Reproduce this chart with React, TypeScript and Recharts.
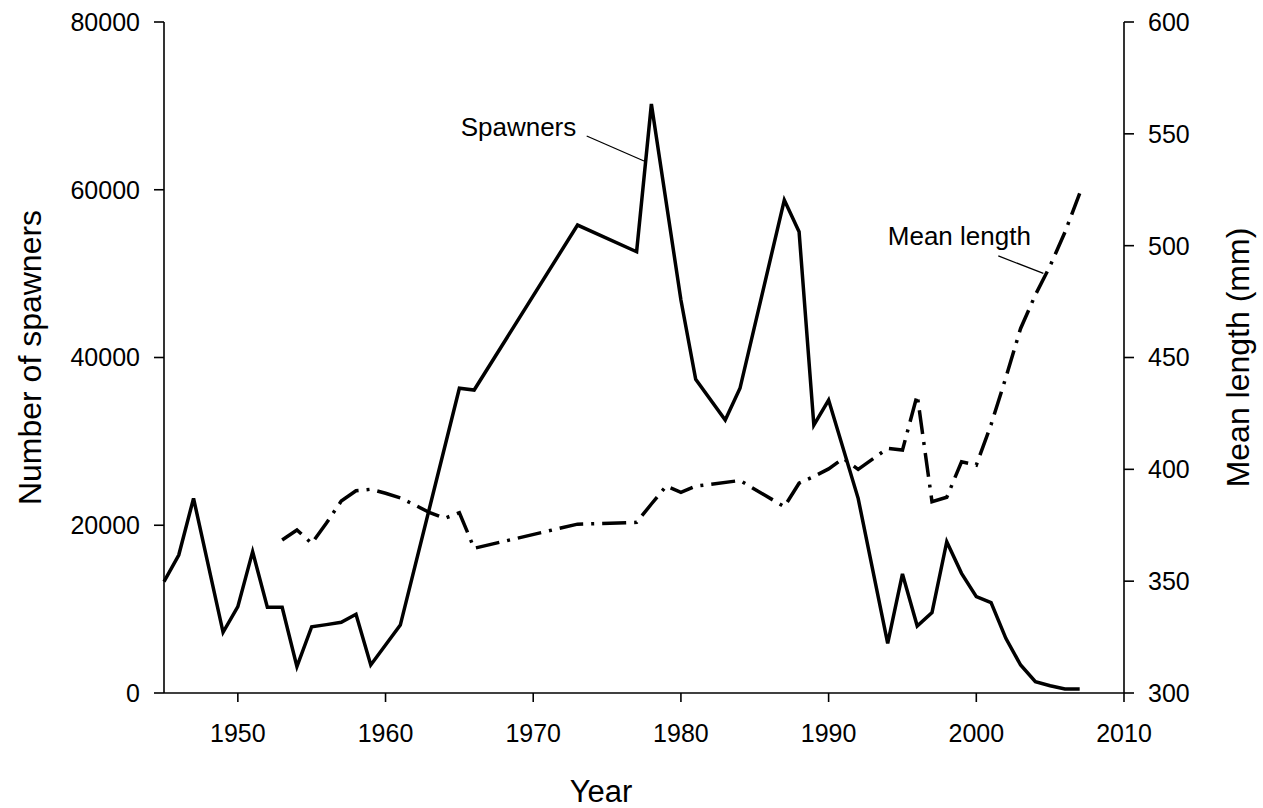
import { LineChart, Line, XAxis, YAxis, ReferenceLine, ReferenceDot } from "recharts";

const FONT = '"Liberation Sans", Arial, sans-serif';

const SPAWN_YEARS = [
  1945, 1946, 1947, 1949, 1950, 1951, 1952, 1953, 1954, 1955, 1956, 1957, 1958, 1959,
  1961, 1965, 1966, 1973, 1977, 1978, 1980, 1981, 1983, 1984, 1987, 1988, 1989, 1990,
  1992, 1994, 1995, 1996, 1997, 1998, 1999, 2000, 2001, 2002, 2003, 2004, 2005, 2006, 2007,
];
const SPAWNERS = [
  13270, 16450, 23210, 7240, 10290, 16850, 10210, 10210, 3140, 7900, 8150, 8430, 9380, 3340,
  8100, 36330, 36120, 55790, 52610, 70220, 46850, 37400, 32550, 36330, 58770, 55000, 31950, 34930,
  23210, 5920, 14190, 7990, 9580, 18040, 14270, 11480, 10770, 6520, 3340, 1350, 870, 480, 480,
];

const LEN_YEARS = [
  1953, 1954, 1955, 1956, 1957, 1958, 1959, 1960, 1961, 1962, 1963, 1964, 1965, 1966,
  1973, 1977, 1978, 1979, 1980, 1981, 1984, 1987, 1988, 1989, 1990, 1991, 1992, 1994,
  1995, 1996, 1997, 1998, 1999, 2000, 2001, 2002, 2003, 2004, 2005, 2006, 2007,
];
const MEAN_LENGTH = [
  368.4, 372.9, 366.9, 376, 385.8, 390.4, 391.1, 389.3, 387.2, 384, 380.6, 378.1, 380.6, 364.7,
  375.5, 376.3, 384.5, 392.5, 389.7, 392.5, 395, 383.3, 393.8, 396.8, 400.2, 404.9, 400, 409.4,
  408.6, 433.2, 385.5, 387.5, 403.4, 401.9, 420, 441, 463, 478, 491, 506, 523.4,
];

const X_TICKS = [1950, 1960, 1970, 1980, 1990, 2000, 2010];
const LEFT_TICKS = [0, 20000, 40000, 60000, 80000];
const RIGHT_TICKS = [300, 350, 400, 450, 500, 550, 600];

const spawnData = SPAWN_YEARS.map((year, i) => ({ year, spawners: SPAWNERS[i] }));
const lengthData = LEN_YEARS.map((year, i) => ({ year, length: MEAN_LENGTH[i] }));

const tickStyle = { fontSize: 25, fill: "#000", fontFamily: FONT };
const axisStroke = { stroke: "#000", strokeWidth: 1.6 };

function LeftTitle({ viewBox }: any) {
  const cx = viewBox.x + 30;
  const cy = viewBox.y + viewBox.height / 2;
  return (
    <text x={cx} y={cy} transform={`rotate(-90 ${cx} ${cy})`} textAnchor="middle"
      dominantBaseline="central" fontSize={32} fontFamily={FONT} fill="#000">
      Number of spawners
    </text>
  );
}

function RightTitle({ viewBox }: any) {
  const cx = viewBox.x + viewBox.width - 25;
  const cy = viewBox.y + viewBox.height / 2;
  return (
    <text x={cx} y={cy} transform={`rotate(-90 ${cx} ${cy})`} textAnchor="middle"
      dominantBaseline="central" fontSize={32} fontFamily={FONT} fill="#000">
      Mean length (mm)
    </text>
  );
}

function BottomTitle({ viewBox }: any) {
  const cx = viewBox.x + viewBox.width / 2 - 43;
  const y = viewBox.y + viewBox.height - 6;
  return (
    <text x={cx} y={y} textAnchor="middle" fontSize={31} fontFamily={FONT} fill="#000">
      Year
    </text>
  );
}

export default function App() {
  return (
    <div style={{ position: "absolute", left: 0, top: 0, background: "#fff" }}>
      <LineChart width={1263} height={808} margin={{ top: 22, right: 0, bottom: 0, left: 0 }}>
        <XAxis
          type="number"
          dataKey="year"
          domain={[1945, 2010]}
          ticks={X_TICKS}
          interval={0}
          allowDuplicatedCategory={false}
          height={115}
          tickSize={9}
          tickMargin={22}
          tick={tickStyle}
          axisLine={axisStroke}
          tickLine={axisStroke}
          label={BottomTitle}
        />
        <YAxis
          yAxisId="left"
          orientation="left"
          domain={[0, 80000]}
          ticks={LEFT_TICKS}
          interval={0}
          width={164}
          tickSize={10}
          tickMargin={14}
          tick={tickStyle}
          axisLine={axisStroke}
          tickLine={axisStroke}
          label={LeftTitle}
        />
        <YAxis
          yAxisId="right"
          orientation="right"
          domain={[300, 600]}
          ticks={RIGHT_TICKS}
          interval={0}
          width={139}
          tickSize={10}
          tickMargin={14}
          tick={tickStyle}
          axisLine={axisStroke}
          tickLine={axisStroke}
          label={RightTitle}
        />
        <Line
          yAxisId="left"
          data={spawnData}
          dataKey="spawners"
          type="linear"
          stroke="#000"
          strokeWidth={3.5}
          strokeLinejoin="miter"
          dot={false}
          activeDot={false}
          isAnimationActive={false}
        />
        <Line
          yAxisId="right"
          data={lengthData}
          dataKey="length"
          type="linear"
          stroke="#000"
          strokeWidth={3.5}
          strokeDasharray="24 8 3 8"
          dot={false}
          activeDot={false}
          isAnimationActive={false}
        />
        <ReferenceLine
          yAxisId="left"
          segment={[{ x: 1973.62, y: 66405 }, { x: 1977.5, y: 63426 }]}
          stroke="#000"
          strokeWidth={1.3}
          ifOverflow="visible"
        />
        <ReferenceDot
          yAxisId="left"
          x={1969.0}
          y={67477}
          r={0}
          fill="none"
          stroke="none"
          ifOverflow="visible"
          label={{ value: "Spawners", position: "center", fontSize: 26, fill: "#000", fontFamily: FONT }}
        />
        <ReferenceLine
          yAxisId="right"
          segment={[{ x: 2001.49, y: 495.4 }, { x: 2004.54, y: 487.6 }]}
          stroke="#000"
          strokeWidth={1.3}
          ifOverflow="visible"
        />
        <ReferenceDot
          yAxisId="right"
          x={1998.85}
          y={504.3}
          r={0}
          fill="none"
          stroke="none"
          ifOverflow="visible"
          label={{ value: "Mean length", position: "center", fontSize: 26, fill: "#000", fontFamily: FONT }}
        />
      </LineChart>
    </div>
  );
}
